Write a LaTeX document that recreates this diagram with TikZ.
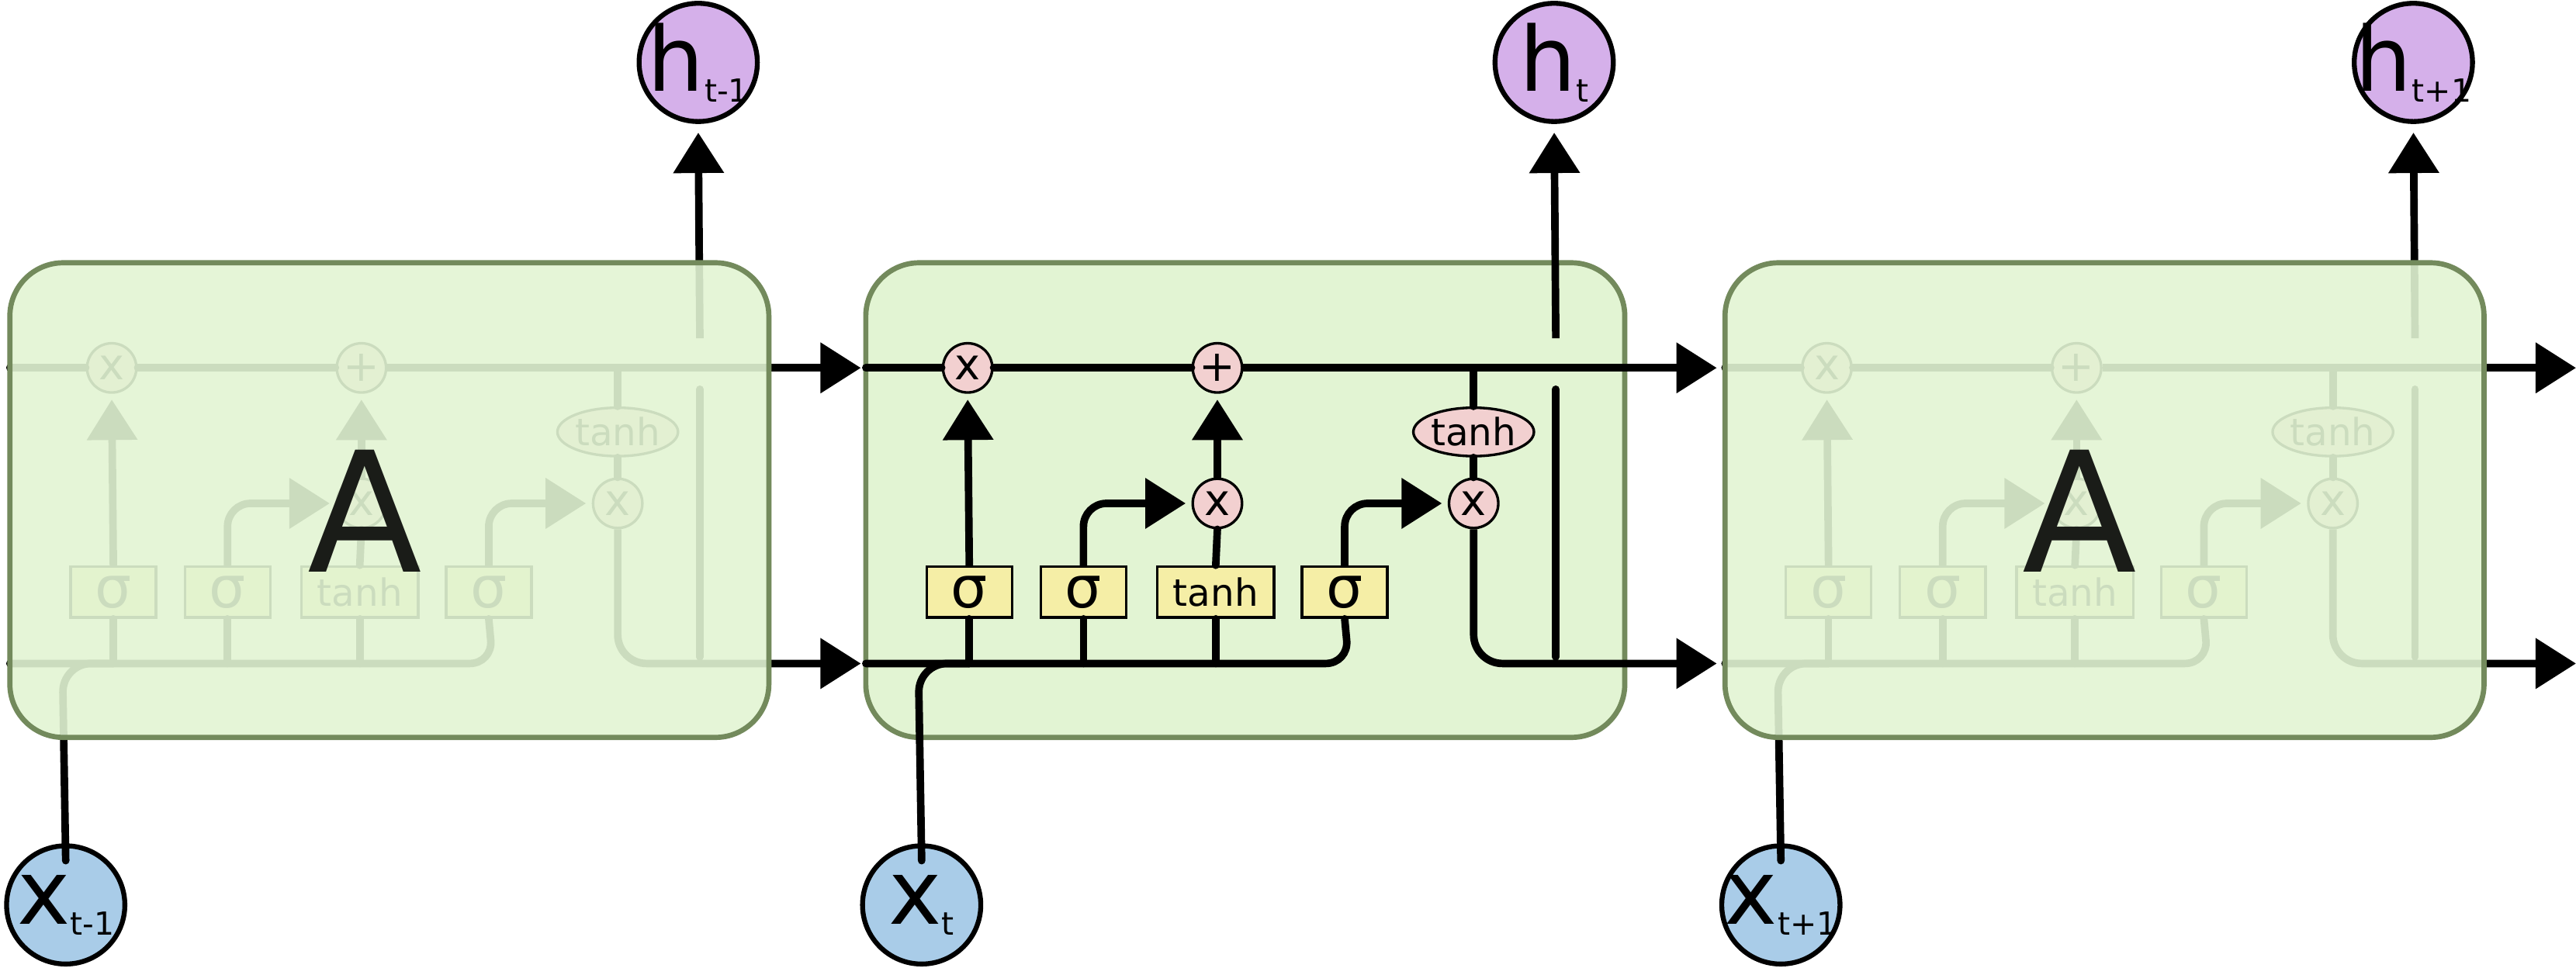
\documentclass[tikz,border=0pt]{standalone}
\usepackage{fontspec}
\setmainfont{DejaVu Sans}
\usetikzlibrary{arrows.meta,shapes.geometric}
\definecolor{boxfill}{HTML}{E2F4D3}
\definecolor{boxedge}{HTML}{738A5C}
\definecolor{gatefill}{HTML}{F5EEA6}
\definecolor{opfill}{HTML}{F2D0D0}
\definecolor{infill}{HTML}{A9CCE8}
\definecolor{outfill}{HTML}{D5B0EA}
\definecolor{atext}{HTML}{1A1C18}
\tikzset{
  wire/.style={line width=2.6pt,line cap=round},
  arr/.style={wire,line cap=butt,-{Triangle[length=14pt,width=17pt]}},
  gate/.style={draw,fill=gatefill,line width=0.9pt,minimum width=10.4mm,minimum height=6.2mm,inner sep=0pt,font=\fontsize{20}{20}\selectfont},
  tgate/.style={gate,minimum width=14.2mm,font=\fontsize{13}{13}\selectfont},
  op/.style={draw,fill=opfill,circle,line width=0.9pt,minimum size=6mm,inner sep=0pt,font=\fontsize{15}{15}\selectfont},
  tanhe/.style={draw,fill=opfill,ellipse,line width=0.9pt,minimum width=14.2mm,minimum height=5.9mm,inner sep=0pt,font=\fontsize{13}{13}\selectfont},
  cellbox/.style={draw=boxedge,line width=1.8pt,rounded corners=6.5mm},
  io/.style={draw,circle,line width=1.7pt,minimum size=14.4mm,inner sep=0pt,font=\fontsize{31}{31}\selectfont},
}
\newcommand{\iolabel}[2]{\makebox[0pt]{#1\raisebox{-0.12em}{\fontsize{11}{11}\selectfont #2}}}
\newcommand{\lstminside}[2]{%
  \node[gate] (s1) at (590,360.5) {σ};
  \node[gate] (s2) at (659.5,360.5) {σ};
  \node[tgate] (tb) at (740,360.5) {tanh};
  \node[gate] (s4) at (818.5,360.5) {σ};
  \node[op] (m1) at (589,224) {x};
  \node[op] (pl) at (741,224) {+};
  \node[op] (m2) at (741,306.5) {x};
  \node[op] (m3) at (897,306.5) {x};
  \node[tanhe] (th) at (897,263) {tanh};
  \node[io,fill=infill] (x) at (561,551) {\iolabel{x}{#1}};
  \node[io,fill=outfill] (h) at (946,38) {\iolabel{h}{#2}};
  \coordinate (cin) at (527,224);
  \coordinate (cout) at (1045,224);
  \coordinate (bin) at (527,404);
  \coordinate (hout) at (1045,404);
  \coordinate (hb) at (947,400);
  \coordinate (hg1) at (947,237);
  \coordinate (hg2) at (947,206);
  \draw[wire] (cin) -- (m1.west);
  \draw[wire] (m1.east) -- (pl.west);
  \draw[arr] (pl.east) -- (cout);
  \draw[wire,rounded corners=8] (bin) -- (821,404) -- (s4.south);
  \draw[wire,rounded corners=10] ([yshift=-6]x.north) -- (559,404) -- (590,404);
  \foreach \g in {s1,s2,tb} \draw[wire] (\g.south) -- (\g.south |- bin);
  \draw[arr,shorten >=2] (s1.north) -- (m1.south);
  \draw[arr,rounded corners=8,shorten >=2] (s2.north) |- (m2.west);
  \draw[wire] (tb.north) -- (m2.south);
  \draw[arr,shorten >=2] (m2.north) -- (pl.south);
  \draw[arr,rounded corners=8,shorten >=2] (s4.north) |- (m3.west);
  \draw[wire] (th.north) -- (th.north |- cin);
  \draw[wire] (th.south) -- (m3.north);
  \draw[arr,rounded corners=10] (m3.south) |- (hout);
  \draw[wire] (hb) -- (hg1);
  \draw[arr,shorten >=3] (hg2) -- (h.south);
}
\begin{document}
\begin{tikzpicture}[x=0.02cm,y=-0.02cm]
\useasboundingbox (0,0) rectangle (1568,589);
% middle cell
\begin{scope}[name prefix=M-]
  \draw[cellbox,fill=boxfill] (527,160) rectangle (989,449);
  \lstminside{t}{t}
\end{scope}
% left cell
\begin{scope}[xshift=-521*0.02cm,name prefix=L-]
  \lstminside{t-1}{t-1}
  \draw[cellbox,fill=boxfill,fill opacity=0.9] (527,160) rectangle (989,449);
  \node[text=atext,font=\fontsize{58}{58}\selectfont] (A) at (743,311) {A};
\end{scope}
% right cell
\begin{scope}[xshift=523*0.02cm,name prefix=R-]
  \lstminside{t+1}{t+1}
  \draw[cellbox,fill=boxfill,fill opacity=0.9] (527,160) rectangle (989,449);
  \node[text=atext,font=\fontsize{58}{58}\selectfont] (A) at (743,311) {A};
\end{scope}
\end{tikzpicture}
\end{document}
